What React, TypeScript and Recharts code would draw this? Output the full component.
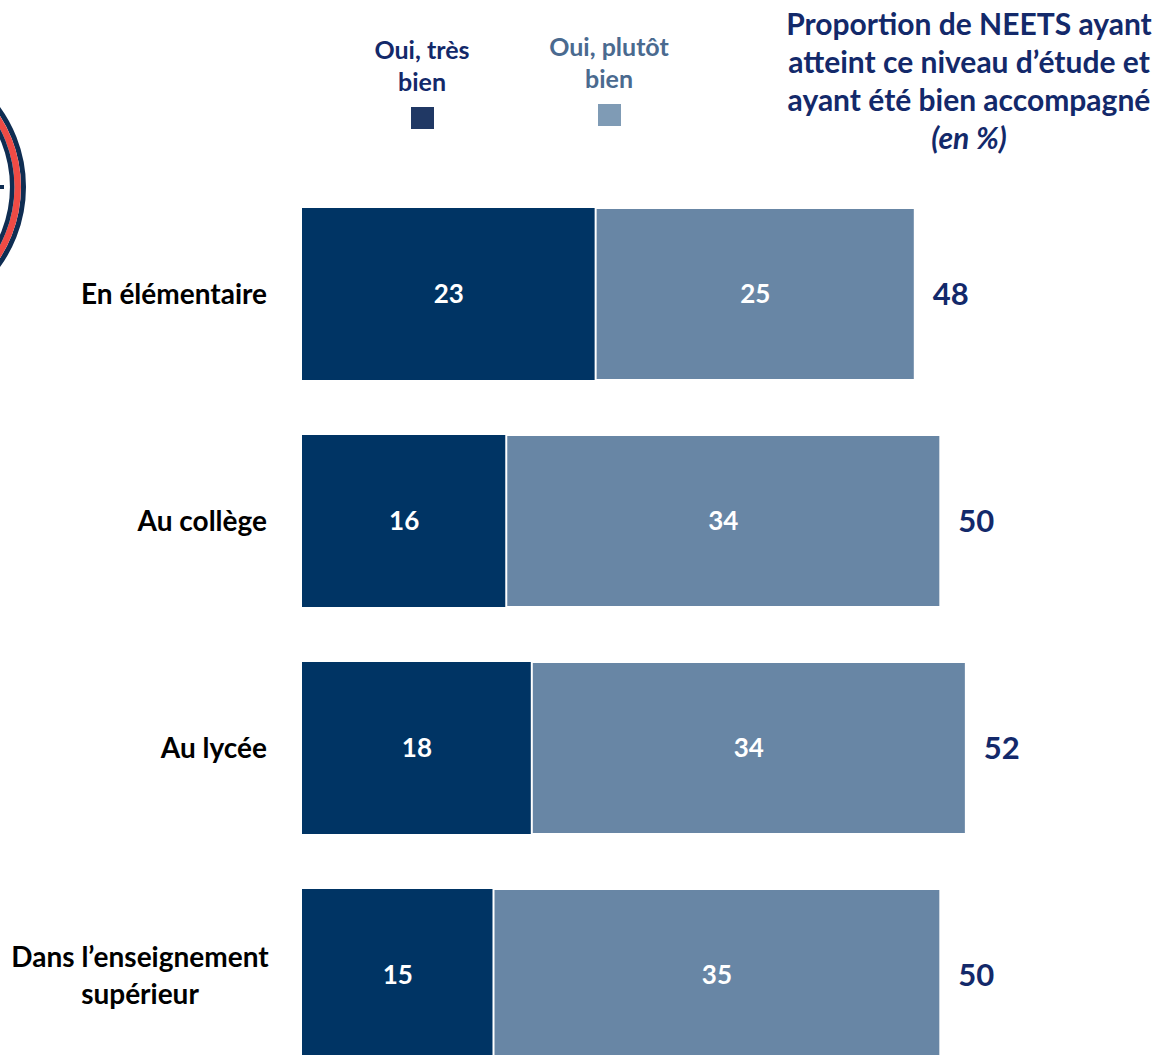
import { BarChart, Bar, XAxis, YAxis, LabelList } from 'recharts';

const CATEGORIES = [
  'En élémentaire',
  'Au collège',
  'Au lycée',
  'Dans l’enseignement\nsupérieur',
];
const TRES_BIEN = [23, 16, 18, 15];
const PLUTOT_BIEN = [25, 34, 34, 35];
const TOTALS = [48, 50, 52, 50];

const LEGEND_ITEMS = [
  { label: ['Oui, très', 'bien'], text: '#13296a', box: '#203864', cx: 422, top: 33 },
  { label: ['Oui, plutôt', 'bien'], text: '#4a6a8f', box: '#7f9bb5', cx: 609, top: 30 },
];
const TITLE_LINES = [
  'Proportion de NEETS ayant',
  'atteint ce niveau d’étude et',
  'ayant été bien accompagné',
];

const COLORS = {
  dark: '#003464',
  light: '#6886a5',
  navy: '#13296a',
};
const FONT = 'Lato, "Open Sans", sans-serif';

const data = CATEGORIES.map((name, i) => ({
  name,
  tres: TRES_BIEN[i],
  plutot: PLUTOT_BIEN[i],
  total: TOTALS[i],
}));

function CategoryTick({ x, y, payload }: any) {
  const lines = String(payload.value).split('\n');
  if (lines.length === 1) {
    return (
      <text x={x} y={y} dy={10} textAnchor="end" fill="#000" fontSize={28} fontWeight={700} fontFamily={FONT}>
        {lines[0]}
      </text>
    );
  }
  // two-line labels are centred under the longest line
  const cx = x - 127;
  return (
    <text x={cx} y={y} textAnchor="middle" fill="#000" fontSize={28} fontWeight={700} fontFamily={FONT}>
      {lines.map((l, i) => (
        <tspan key={i} x={cx} dy={i === 0 ? -8 : 37}>
          {l}
        </tspan>
      ))}
    </text>
  );
}

function Header() {
  return (
    <div style={{ position: 'absolute', left: 0, top: 0, width: 1157, height: 180 }}>
      {LEGEND_ITEMS.map((it) => (
        <div
          key={it.label[0]}
          style={{
            position: 'absolute',
            left: it.cx - 90,
            top: it.top,
            width: 180,
            textAlign: 'center',
            fontFamily: FONT,
            fontWeight: 700,
            fontSize: 25,
            lineHeight: '32px',
            color: it.text,
          }}
        >
          <div>{it.label[0]}</div>
          <div>{it.label[1]}</div>
          <div style={{ width: 23, height: 22, background: it.box, margin: '10px auto 0' }} />
        </div>
      ))}
      <div
        style={{
          position: 'absolute',
          left: 769,
          top: 4,
          width: 400,
          textAlign: 'center',
          fontFamily: FONT,
          fontWeight: 700,
          fontSize: 30,
          lineHeight: '38px',
          color: COLORS.navy,
        }}
      >
        {TITLE_LINES.map((l) => (
          <div key={l}>{l}</div>
        ))}
        <div style={{ fontStyle: 'italic' }}>(en %)</div>
      </div>
    </div>
  );
}

export default function App() {
  return (
    <div style={{ position: 'absolute', left: 0, top: 0, width: 1157, height: 1055, overflow: 'hidden', background: '#fff' }}>
      <svg width={40} height={300} style={{ position: 'absolute', left: 0, top: 0 }}>
        <circle cx={-110} cy={187} r={133.5} fill="none" stroke="#0f2d52" strokeWidth={5} />
        <circle cx={-110} cy={187} r={127.7} fill="none" stroke="#ef4b45" strokeWidth={6.5} />
        <circle cx={-110} cy={187} r={122.2} fill="none" stroke="#0f2d52" strokeWidth={4.5} />
        <rect x={0} y={185} width={4} height={4} fill="#0f2d52" />
      </svg>
      <Header />
      <BarChart
        width={1157}
        height={1100}
        data={data}
        layout="vertical"
        margin={{ top: 180, right: 89, bottom: 12, left: 0 }}
        barSize={172}
      >
        <XAxis type="number" domain={[0, 60]} hide />
        <YAxis
          type="category"
          dataKey="name"
          width={302}
          axisLine={false}
          tickLine={false}
          tickSize={0}
          tickMargin={35}
          interval={0}
          tick={<CategoryTick />}
        />
        <Bar dataKey="tres" stackId="a" fill={COLORS.dark} isAnimationActive={false}>
          <LabelList dataKey="tres" position="center" fill="#fff" fontSize={26} fontWeight={700} fontFamily={FONT} />
        </Bar>
        <Bar dataKey="plutot" stackId="a" fill={COLORS.light} stroke="#fff" strokeWidth={2} isAnimationActive={false}>
          <LabelList dataKey="plutot" position="center" fill="#fff" fontSize={26} fontWeight={700} fontFamily={FONT} />
          <LabelList dataKey="total" position="right" offset={18} fill={COLORS.navy} fontSize={31} fontWeight={700} fontFamily={FONT} />
        </Bar>
      </BarChart>
    </div>
  );
}
